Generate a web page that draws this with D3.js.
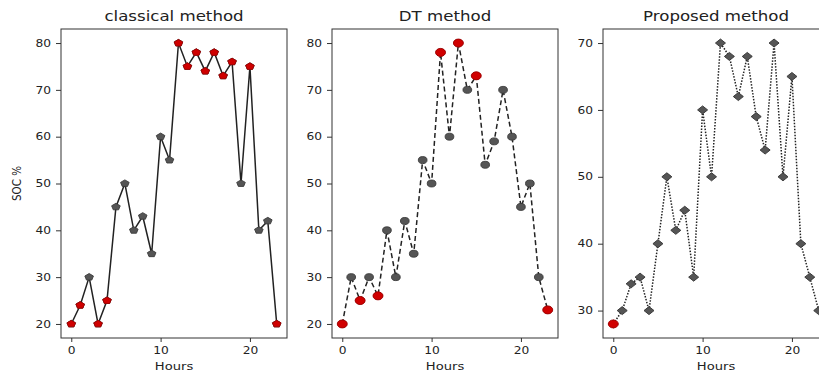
<!DOCTYPE html>
<html>
<head>
<meta charset="utf-8">
<script src="https://cdn.jsdelivr.net/npm/d3@7"></script>
<style>
  body { margin: 0; background: #fff; }
  svg { display: block; }
  text { font-family: "DejaVu Sans", sans-serif; fill: #222; }
</style>
</head>
<body>
<div id="chart"></div>
<script>
// data
const hours = [0, 1, 2, 3, 4, 5, 6, 7, 8, 9, 10, 11, 12, 13, 14, 15, 16, 17, 18, 19, 20, 21, 22, 23];
const classicalSOC = [20, 24, 30, 20, 25, 45, 50, 40, 43, 35, 60, 55, 80, 75, 78, 74, 78, 73, 76, 50, 75, 40, 42, 20];
const classicalRed = [0, 1, 3, 4, 12, 13, 14, 15, 16, 17, 18, 20, 23];
const dtSOC = [20, 30, 25, 30, 26, 40, 30, 42, 35, 55, 50, 78, 60, 80, 70, 73, 54, 59, 70, 60, 45, 50, 30, 23];
const dtRed = [0, 2, 4, 11, 13, 15, 23];
const proposedSOC = [28, 30, 34, 35, 30, 40, 50, 42, 45, 35, 60, 50, 70, 68, 62, 68, 59, 54, 70, 50, 65, 40, 35, 30];
const proposedRed = [0];
const titles = ['classical method', 'DT method', 'Proposed method'];
const xTicks = [0, 10, 20];
const yTicksA = [20, 30, 40, 50, 60, 70, 80];
const yTicksB = [30, 40, 50, 60, 70];

const W = 819, H = 373;
const SX = 1.25; // the picture is stretched sideways
const panelTop = 29, ph = 309, pw = 226;
const lefts = [61, 332, 603];

// matplotlib style pentagon marker
const pentagon = {
  draw(ctx, size) {
    const r = Math.sqrt(size);
    for (let i = 0; i < 5; i++) {
      const a = -Math.PI / 2 + i * 2 * Math.PI / 5;
      if (i) ctx.lineTo(r * Math.cos(a), r * Math.sin(a));
      else ctx.moveTo(r * Math.cos(a), r * Math.sin(a));
    }
    ctx.closePath();
  }
};

const panels = [
  { values: classicalSOC, red: classicalRed, yTicks: yTicksA, dash: null,
    sym: d3.symbol(pentagon, 13), rot: 0, redSym: d3.symbol(pentagon, 13) },
  { values: dtSOC, red: dtRed, yTicks: yTicksA, dash: '5,3',
    sym: d3.symbol(d3.symbolCircle, 38), rot: 0, redSym: d3.symbol(d3.symbolCircle, 50) },
  { values: proposedSOC, red: proposedRed, yTicks: yTicksB, dash: '1.5,1.5',
    sym: d3.symbol(d3.symbolSquare, 32), rot: 45, redSym: d3.symbol(d3.symbolCircle, 50) }
];

const svg = d3.select('#chart').append('svg')
  .attr('width', W)
  .attr('height', H);

panels.forEach((p, i) => {
  const g = svg.append('g')
    .attr('transform', 'translate(' + lefts[i] + ',' + panelTop + ')');

  // 5% margins like matplotlib
  const xe = d3.extent(hours), ye = d3.extent(p.values);
  const xp = (xe[1] - xe[0]) * 0.05, yp = (ye[1] - ye[0]) * 0.05;
  const x = d3.scaleLinear().domain([xe[0] - xp, xe[1] + xp]).range([0, pw]);
  const y = d3.scaleLinear().domain([ye[0] - yp, ye[1] + yp]).range([ph, 0]);

  // axes
  const xa = g.append('g')
    .attr('transform', 'translate(0,' + ph + ')')
    .call(d3.axisBottom(x).tickValues(xTicks).tickSize(4).tickPadding(5));
  const ya = g.append('g')
    .call(d3.axisLeft(y).tickValues(p.yTicks).tickSize(5).tickPadding(3));
  [xa, ya].forEach(a => {
    a.select('.domain').remove();
    a.selectAll('line').attr('stroke', '#333');
    a.selectAll('text')
      .attr('font-size', 9.8)
      .attr('font-family', '"DejaVu Sans", sans-serif')
      .attr('fill', '#222')
      .attr('transform', 'scale(' + SX + ',1)');
  });

  // line
  const line = d3.line()
    .x((d, k) => x(hours[k]))
    .y(d => y(d));
  g.append('path')
    .datum(p.values)
    .attr('fill', 'none')
    .attr('stroke', '#222')
    .attr('stroke-width', 1.5)
    .attr('stroke-dasharray', p.dash)
    .attr('d', line);

  // gray markers
  g.selectAll('.mk')
    .data(p.values)
    .enter()
    .append('path')
    .attr('transform', (d, k) => 'translate(' + x(hours[k]) + ',' + y(d) + ') scale(' + SX + ',1) rotate(' + p.rot + ')')
    .attr('d', p.sym)
    .attr('fill', '#555')
    .attr('stroke', '#3a3a3a')
    .attr('stroke-width', 0.8);

  // red markers on top
  g.selectAll('.red')
    .data(p.red)
    .enter()
    .append('path')
    .attr('transform', h => 'translate(' + x(h) + ',' + y(p.values[h]) + ') scale(' + SX + ',1)')
    .attr('d', p.redSym)
    .attr('fill', '#d00000')
    .attr('stroke', '#a00000')
    .attr('stroke-width', 0.8);

  // frame
  g.append('rect')
    .attr('width', pw)
    .attr('height', ph)
    .attr('fill', 'none')
    .attr('stroke', '#333')
    .attr('stroke-width', 1);

  // title and x label
  g.append('text')
    .attr('transform', 'translate(' + pw / 2 + ',-8) scale(' + SX + ',1)')
    .attr('text-anchor', 'middle')
    .attr('font-size', 13.3)
    .text(titles[i]);
  g.append('text')
    .attr('transform', 'translate(' + pw / 2 + ',' + (ph + 32) + ') scale(' + SX + ',1)')
    .attr('text-anchor', 'middle')
    .attr('font-size', 10.5)
    .text('Hours');
});

svg.append('text')
  .attr('transform', 'translate(21,' + (panelTop + ph / 2) + ') scale(' + SX + ',1) rotate(-90)')
  .attr('text-anchor', 'middle')
  .attr('font-size', 10.3)
  .text('SOC %');
</script>
</body>
</html>
